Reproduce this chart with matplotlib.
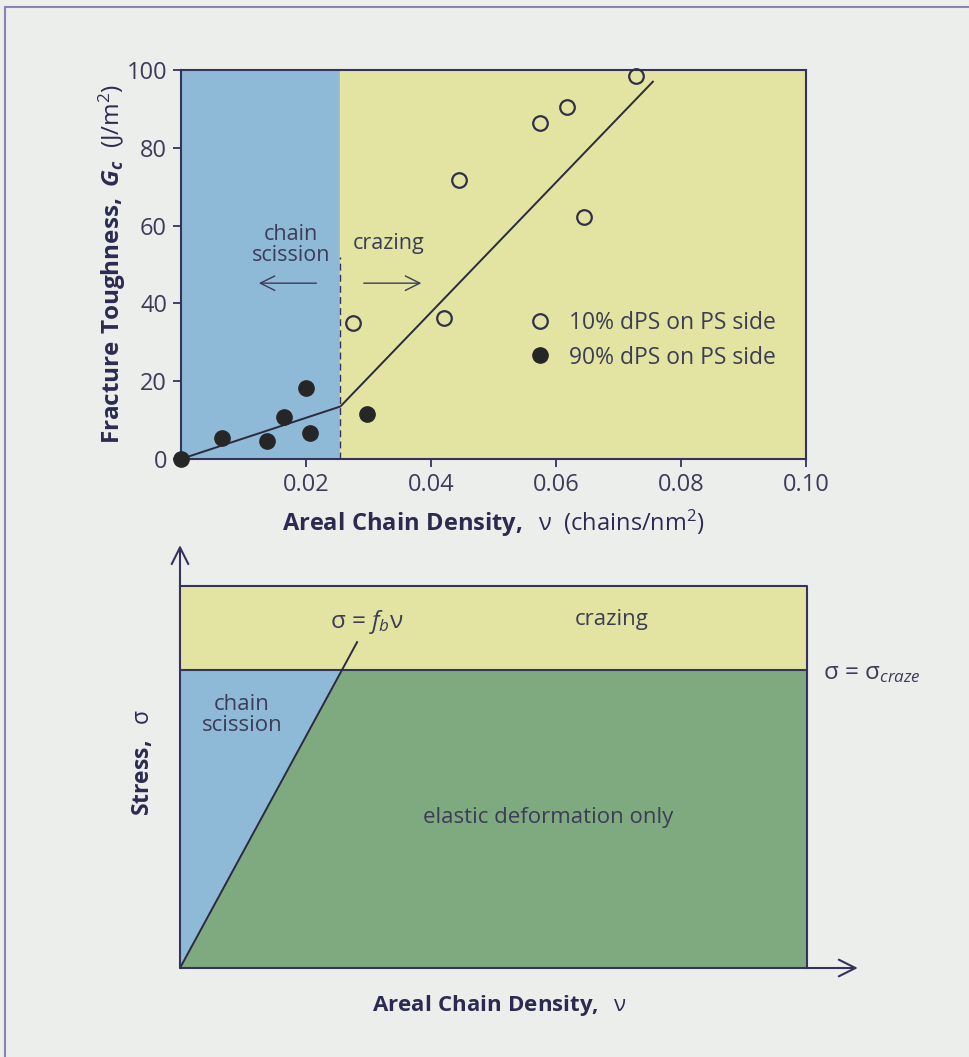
import matplotlib
matplotlib.use("Agg")
import matplotlib.pyplot as plt
from matplotlib.patches import Rectangle, Polygon

# --- fracture toughness data (top panel) ---
nu_10 = [0.0275, 0.0421, 0.0444, 0.0575, 0.0617, 0.0644, 0.0728]
gc_10 = [35.0, 36.3, 71.7, 86.3, 90.6, 62.3, 98.5]
nu_90 = [0.0, 0.0065, 0.0137, 0.0165, 0.0200, 0.0207, 0.0297]
gc_90 = [0.0, 5.3, 4.7, 10.7, 18.3, 6.8, 11.5]
fit_nu = [0.0, 0.0255, 0.0755]
fit_gc = [0.0, 13.5, 97.0]
nu_transition = 0.0255
x_ticks = [0.02, 0.04, 0.06, 0.08, 0.10]
x_tick_labels = ["0.02", "0.04", "0.06", "0.08", "0.10"]
y_ticks = [0, 20, 40, 60, 80, 100]

# --- schematic failure map (bottom panel) ---
sigma_craze = 0.78
fb_slope = 3.02
fb_line_top = 0.853

BG = "#eceeec"
BLUE = "#8fbad7"
YELLOW = "#e3e4a2"
GREEN = "#7faa80"
NAVY = "#33335e"
TXT = "#3c3c58"
LBL = "#2b2b52"
FONT = "Open Sans"

plt.rcParams["font.family"] = [FONT, "DejaVu Sans"]
plt.rcParams["mathtext.fontset"] = "custom"
plt.rcParams["mathtext.rm"] = FONT
plt.rcParams["mathtext.it"] = FONT + ":italic"
plt.rcParams["mathtext.bf"] = FONT + ":bold"
plt.rcParams["mathtext.bfit"] = FONT + ":italic:bold"

W, H = 969, 1057
fig = plt.figure(figsize=(W / 100, H / 100), dpi=100, facecolor=BG)

# thin page frame
fig.add_artist(Rectangle((5 / W, -0.1), 1.2, 1.1 - 7 / H, transform=fig.transFigure,
                         fill=False, edgecolor="#8585b5", linewidth=1.5))

# ---------------- top panel ----------------
ax = fig.add_axes([181 / W, 1 - 459 / H, 625 / W, 389 / H])
ax.set_xlim(0, 0.10)
ax.set_ylim(0, 100)
ax.axvspan(0, nu_transition, color=BLUE, zorder=0)
ax.axvspan(nu_transition, 0.10, color=YELLOW, zorder=0)
ax.plot([nu_transition, nu_transition], [0, 52], ls=(0, (5, 3)), color=NAVY, lw=1.0)
ax.plot(fit_nu, fit_gc, color="#2a2a40", lw=1.4, zorder=2)

ax.plot(nu_10, gc_10, "o", ms=10.5, mfc="none", mec="#30304a", mew=1.6,
        label="10% dPS on PS side", clip_on=False, zorder=3)
ax.plot(nu_90, gc_90, "o", ms=11, mfc="#262626", mec="#262626",
        label="90% dPS on PS side", clip_on=False, zorder=3)

for s in ax.spines.values():
    s.set_color(NAVY)
    s.set_linewidth(1.5)
ax.set_xticks(x_ticks)
ax.set_xticklabels(x_tick_labels)
ax.set_yticks(y_ticks)
ax.tick_params(direction="out", length=6, width=1.3, color=NAVY,
               labelsize=17, labelcolor=TXT, pad=4)

ax.legend(loc="center left", bbox_to_anchor=(0.538, 0.305), frameon=False,
          handlelength=1.0, handletextpad=0.75, labelspacing=0.45,
          fontsize=16.5, borderpad=0, labelcolor=TXT)

ax.text(0.0176, 55, "chain\nscission", ha="center", va="center",
        fontsize=15.5, color=TXT, linespacing=1.0)
ax.text(0.0333, 55.5, "crazing", ha="center", va="center", fontsize=15.5, color=TXT)
ax.annotate("", xy=(0.0120, 45.2), xytext=(0.0221, 45.2),
            arrowprops=dict(arrowstyle="->", color=TXT, lw=1.0,
                            mutation_scale=26))
ax.annotate("", xy=(0.0389, 45.2), xytext=(0.0288, 45.2),
            arrowprops=dict(arrowstyle="->", color=TXT, lw=1.0,
                            mutation_scale=26))

ax.text(0.5, -0.165, r"$\mathbf{Areal\ Chain\ Density,}$  ν  (chains/nm$^{2}$)",
        transform=ax.transAxes, ha="center", va="center", fontsize=17, color=LBL)
ax.text(-0.109, 0.5, r"$\mathbf{Fracture\ Toughness,}\ \mathbfit{G_c}$  (J/m$^{2}$)",
        transform=ax.transAxes, ha="center", va="center", rotation=90,
        fontsize=17.5, color=LBL)

# ---------------- bottom panel ----------------
bx = fig.add_axes([180 / W, 1 - 968 / H, 627 / W, 382 / H])
bx.set_xlim(0, 1)
bx.set_ylim(0, 1)
bx.axis("off")

nu_cross = sigma_craze / fb_slope
bx.fill_between([0, 1], sigma_craze, 1, color=YELLOW, lw=0, zorder=0)
bx.add_patch(Polygon([(0, 0), (1, 0), (1, sigma_craze), (nu_cross, sigma_craze)],
                     closed=True, facecolor=GREEN, edgecolor="none", zorder=0))
bx.add_patch(Polygon([(0, 0), (nu_cross, sigma_craze), (0, sigma_craze)],
                     closed=True, facecolor=BLUE, edgecolor="none", zorder=0))

bx.plot([0, 1, 1], [1, 1, 0], color=NAVY, lw=1.5, clip_on=False)
bx.plot([0, 1], [sigma_craze, sigma_craze], color=NAVY, lw=1.5)
bx.plot([0, fb_line_top / fb_slope], [0, fb_line_top], color="#2a2a40", lw=1.4)

bx.annotate("", xy=(0, 1.107), xytext=(0, 0), annotation_clip=False,
            arrowprops=dict(arrowstyle="->", color=NAVY, lw=1.5, mutation_scale=30,
                            shrinkA=0, shrinkB=0))
bx.annotate("", xy=(1.081, 0), xytext=(0, 0), annotation_clip=False,
            arrowprops=dict(arrowstyle="->", color=NAVY, lw=1.5, mutation_scale=30,
                            shrinkA=0, shrinkB=0))

bx.text(0.298, 0.906, r"σ = $f_{b}$ν", ha="center", va="center", fontsize=17.5, color=TXT)
bx.text(0.689, 0.911, "crazing", ha="center", va="center", fontsize=16, color=TXT)
bx.text(1.026, 0.772, r"σ = σ$_{craze}$", ha="left", va="center",
        fontsize=17.5, color=TXT, clip_on=False)
bx.text(0.099, 0.662, "chain\nscission", ha="center", va="center",
        fontsize=16, color=TXT, linespacing=1.0)
bx.text(0.587, 0.393, "elastic deformation only", ha="center", va="center",
        fontsize=16, color=TXT)
bx.text(-0.059, 0.539, r"$\mathbf{Stress,}$  σ", transform=bx.transAxes,
        ha="center", va="center", rotation=90, fontsize=16.5, color=LBL)
bx.text(0.51, -0.097, r"$\mathbf{Areal\ Chain\ Density,}$  ν", transform=bx.transAxes,
        ha="center", va="center", fontsize=16, color=LBL)

fig.savefig("out.png", dpi=100, facecolor=BG)
